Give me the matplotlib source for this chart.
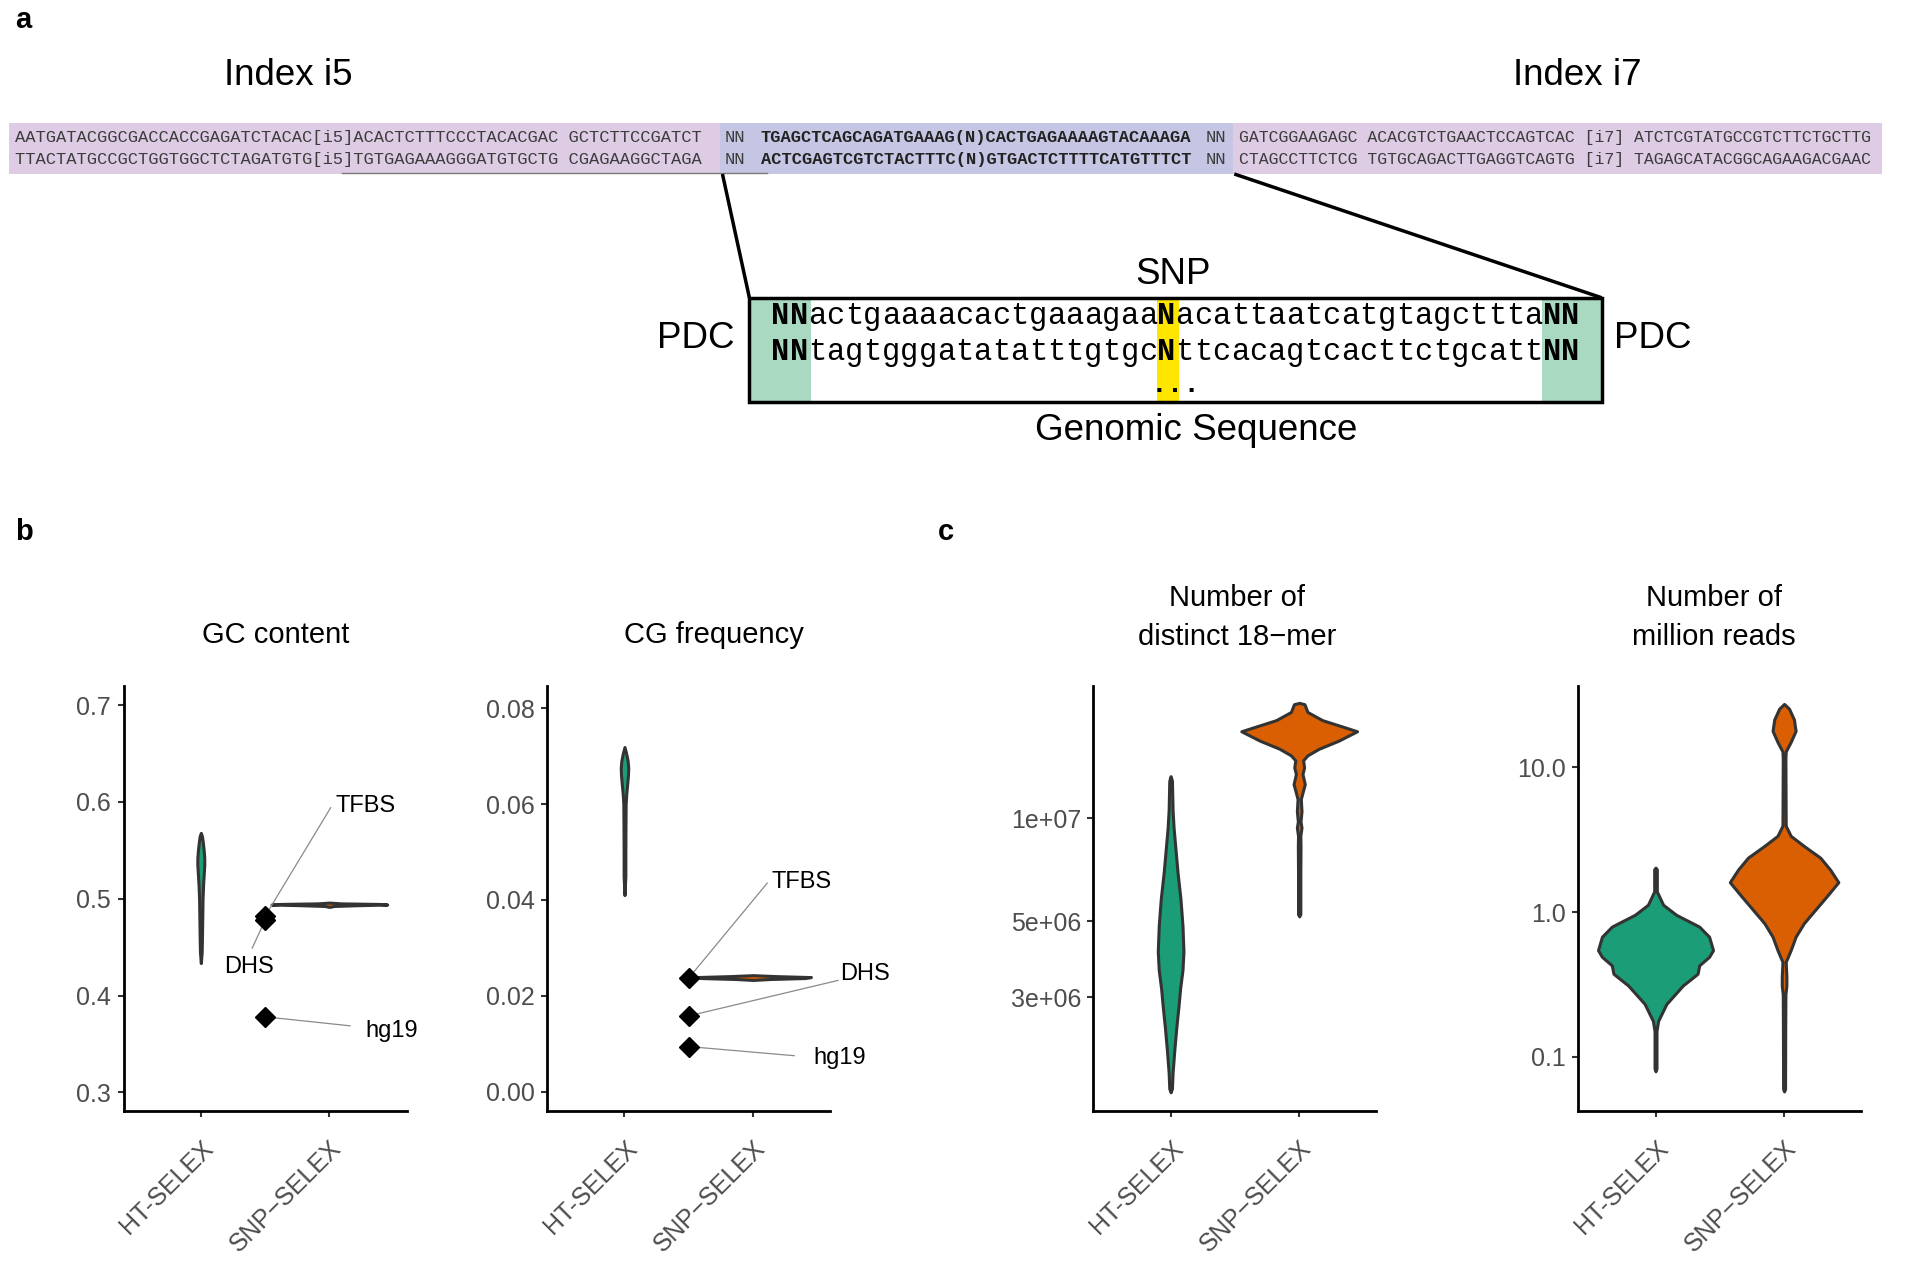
import numpy as np
import matplotlib
matplotlib.use("Agg")
import matplotlib.pyplot as plt
from matplotlib.patches import Rectangle
from matplotlib.ticker import NullLocator

plt.rcParams["font.family"] = ["Liberation Sans", "DejaVu Sans"]

# ─────────────────────────────────────────────────────────────────────────────
# DATA
# ─────────────────────────────────────────────────────────────────────────────

# panel a – library construct (top / bottom strand)
strand_left = [
    "AATGATACGGCGACCACCGAGATCTACAC[i5]ACACTCTTTCCCTACACGAC GCTCTTCCGATCT",
    "TTACTATGCCGCTGGTGGCTCTAGATGTG[i5]TGTGAGAAAGGGATGTGCTG CGAGAAGGCTAGA",
]
insert_seq = [
    "TGAGCTCAGCAGATGAAAG(N)CACTGAGAAAAGTACAAAGA",
    "ACTCGAGTCGTCTACTTTC(N)GTGACTCTTTTCATGTTTCT",
]
strand_right = [
    "GATCGGAAGAGC ACACGTCTGAACTCCAGTCAC [i7] ATCTCGTATGCCGTCTTCTGCTTG",
    "CTAGCCTTCTCG TGTGCAGACTTGAGGTCAGTG [i7] TAGAGCATACGGCAGAAGACGAAC",
]
genomic_rows = [
    "NNactgaaaacactgaaagaaNacattaatcatgtagctttaNN",
    "NNtagtgggatatatttgtgcNttcacagtcacttctgcattNN",
]

categories = ["HT-SELEX", "SNP\u2212SELEX"]

# violin profiles: value, relative density (1 = widest violin of the panel)
gc_ht_y = [0.4335, 0.445, 0.46, 0.48, 0.50, 0.515, 0.525, 0.535, 0.542, 0.55, 0.558, 0.5645, 0.568]
gc_ht_w = [0.0, 0.015, 0.02, 0.025, 0.03, 0.04, 0.05, 0.06, 0.06, 0.05, 0.035, 0.02, 0.0]
gc_snp_y = [0.4915, 0.4925, 0.4933, 0.4940, 0.4946, 0.4952, 0.4960]
gc_snp_w = [0.0, 0.08, 0.5, 1.0, 0.85, 0.2, 0.0]

cg_ht_y = [0.041, 0.045, 0.05, 0.055, 0.06, 0.062, 0.064, 0.066, 0.0675, 0.069, 0.0705, 0.0719]
cg_ht_w = [0.0, 0.015, 0.015, 0.017, 0.02, 0.03, 0.045, 0.06, 0.065, 0.055, 0.03, 0.0]
cg_snp_y = [0.0233, 0.0235, 0.0237, 0.0239, 0.0241, 0.0243]
cg_snp_w = [0.0, 0.3, 0.9, 1.0, 0.4, 0.0]

kmer_ht_y = [1.33e7, 1.29e7, 1.06e7, 9.42e6, 8.10e6, 6.97e6, 5.82e6, 4.86e6, 4.08e6,
             3.60e6, 3.19e6, 2.82e6, 2.43e6, 2.09e6, 1.80e6, 1.62e6, 1.58e6]
kmer_ht_w = [0.0, 0.023, 0.034, 0.051, 0.085, 0.119, 0.170, 0.205, 0.222,
             0.205, 0.165, 0.136, 0.097, 0.063, 0.034, 0.023, 0.0]
kmer_snp_y = [2.18e7, 2.16e7, 2.05e7, 1.94e7, 1.86e7, 1.80e7, 1.69e7, 1.60e7, 1.53e7,
              1.48e7, 1.41e7, 1.35e7, 1.26e7, 1.19e7, 1.14e7, 1.05e7, 9.8e6,
              9.4e6, 8.9e6, 8.3e6, 6.97e6, 5.25e6, 5.17e6]
kmer_snp_w = [0.0, 0.091, 0.143, 0.400, 0.740, 1.0, 0.682, 0.341, 0.142,
              0.068, 0.085, 0.057, 0.097, 0.057, 0.028, 0.040, 0.023,
              0.040, 0.020, 0.023, 0.020, 0.020, 0.0]

reads_ht_y = [2.03, 1.98, 1.39, 1.125, 0.958, 0.794, 0.676, 0.546, 0.491, 0.429,
              0.375, 0.311, 0.232, 0.177, 0.151, 0.083, 0.0794]
reads_ht_w = [0.0, 0.023, 0.023, 0.131, 0.358, 0.756, 0.926, 0.994, 0.926, 0.756,
              0.727, 0.472, 0.188, 0.045, 0.017, 0.017, 0.0]
reads_snp_y = [27.5, 25.5, 21.5, 17.9, 15.0, 12.9, 11.5, 3.96, 3.37, 2.87, 2.38, 1.97,
               1.61, 1.29, 1.04, 0.838, 0.676, 0.546, 0.453, 0.36, 0.311, 0.27,
               0.164, 0.0600, 0.0576]
reads_snp_w = [0.0, 0.085, 0.170, 0.199, 0.114, 0.028, 0.023, 0.028, 0.114, 0.341, 0.625, 0.795,
               0.938, 0.739, 0.540, 0.341, 0.199, 0.114, 0.028, 0.040, 0.040, 0.023,
               0.020, 0.017, 0.0]

# genome-wide reference values (diamonds)
ref_labels = ["TFBS", "DHS", "hg19"]
gc_ref = [0.482, 0.478, 0.378]
cg_ref = [0.0237, 0.0158, 0.0094]

# ─────────────────────────────────────────────────────────────────────────────
# STYLE
# ─────────────────────────────────────────────────────────────────────────────

GREEN, ORANGE = "#1B9E77", "#D95F02"
EDGE = "#333333"
PURPLE, BLUE = "#DDCCE4", "#C5C6E3"
SEQ_GRAY = "#3C3C3C"
MONO = ["Liberation Mono", "DejaVu Sans Mono"]

W, H = 1568, 1030          # layout grid used for placing the schematic

fig = plt.figure(figsize=(19.2, 12.62), dpi=100)
ov = fig.add_axes([0, 0, 1, 1])
ov.set_xlim(0, W)
ov.set_ylim(H, 0)
ov.axis("off")

# ─────────────────────────────────────────────────────────────────────────────
# PANEL a – construct schematic
# ─────────────────────────────────────────────────────────────────────────────

ov.text(12, 16, "a", size=21, weight="bold", ha="left", va="center")
ov.text(235, 62, "Index i5", size=26.5, ha="center", va="center")
ov.text(1288, 62, "Index i7", size=26.5, ha="center", va="center")

ov.add_patch(Rectangle((7, 100), 1530, 42, fc=PURPLE, ec="none"))
ov.add_patch(Rectangle((588, 100), 419, 42, fc=BLUE, ec="none"))
for row, y in enumerate((112, 130)):
    kw = dict(family=MONO, color=SEQ_GRAY, va="center")
    ov.text(12, y, strand_left[row], ha="left", size=12.3, **kw)
    ov.text(592, y, "NN", ha="left", size=12.3, **kw)
    ov.text(797, y, insert_seq[row], ha="center", weight="bold",
            family=MONO, size=12.3, color="#222222", va="center")
    ov.text(1001, y, "NN", ha="right", size=12.3, **kw)
    ov.text(1012, y, strand_right[row], ha="left", size=11.9, **kw)
ov.plot([279, 626], [141, 141], color="#7A7A7A", lw=1)

# zoom lines into the genomic insert
ov.plot([590, 612], [142, 243], color="black", lw=2.5, solid_capstyle="butt")
ov.plot([1008, 1308], [142, 243], color="black", lw=2.5, solid_capstyle="butt")

ov.add_patch(Rectangle((612, 243), 696, 85, fc="white", ec="none"))
ov.add_patch(Rectangle((612, 243), 50, 85, fc="#A9D9C0", ec="none"))
ov.add_patch(Rectangle((1259, 243), 49, 85, fc="#A9D9C0", ec="none"))
ov.add_patch(Rectangle((945, 243), 18, 85, fc="#FFE600", ec="none"))
ov.add_patch(Rectangle((612, 243), 696, 85, fc="none", ec="black", lw=2.5))

for row, y in zip(genomic_rows, (258, 287)):
    for i, ch in enumerate(row):
        ov.text(630 + 15 * i + 7.5, y, ch, family=MONO, size=22,
                weight="bold" if ch == "N" else "normal",
                ha="center", va="center")
ov.text(960, 314, "...", family=MONO, size=20, weight="bold", ha="center", va="center")

ov.text(958, 224, "SNP", size=26.5, ha="center", va="center")
ov.text(568, 276, "PDC", size=26.5, ha="center", va="center")
ov.text(1350, 276, "PDC", size=26.5, ha="center", va="center")
ov.text(977, 351, "Genomic Sequence", size=26.5, ha="center", va="center")

# ─────────────────────────────────────────────────────────────────────────────
# PANELS b / c – violins
# ─────────────────────────────────────────────────────────────────────────────

ov.text(12, 434, "b", size=21, weight="bold", ha="left", va="center")
ov.text(766, 434, "c", size=21, weight="bold", ha="left", va="center")


def panel(x_left, profiles, ylim, yticks, yticklabels, log=False):
    """Draw one ggplot-like violin panel; x_left in layout units."""
    rect = [x_left / W, 1 - 907 / H, 231 / W, (907 - 560) / H]
    ax = fig.add_axes(rect)
    ax.patch.set_visible(False)
    for pos, (ys, ws), color in zip((1, 2), profiles, (GREEN, ORANGE)):
        hw = np.asarray(ws) * 0.45
        ax.fill_betweenx(ys, pos - hw, pos + hw, facecolor=color,
                         edgecolor=EDGE, lw=2.2, zorder=2)
    if log:
        ax.set_yscale("log")
    ax.set_xlim(0.4, 2.6)
    ax.set_ylim(*ylim)
    ax.set_yticks(yticks)
    ax.set_yticklabels(yticklabels)
    ax.yaxis.set_minor_locator(NullLocator())
    ax.set_xticks([1, 2])
    ax.set_xticklabels(categories, rotation=45, ha="right", va="top",
                       rotation_mode="anchor")
    for s in ("top", "right"):
        ax.spines[s].set_visible(False)
    for s in ("left", "bottom"):
        ax.spines[s].set_linewidth(2)
        ax.spines[s].set_color("black")
    ax.tick_params(axis="both", length=4, width=1.5, color=EDGE,
                   labelcolor="#4D4D4D", labelsize=18, pad=5)
    ax.tick_params(axis="x", pad=14)
    return ax


def annotate_refs(ax, values, spots):
    ax.plot([1.5] * len(values), values, "D", color="black", ms=10, zorder=4)
    for lab, val, (tx, ty, lx, ly, ha) in zip(ref_labels, values, spots):
        ax.plot([lx, 1.5], [ly, val], color="#8A8A8A", lw=0.9, zorder=3, clip_on=False)
        ax.text(tx, ty, lab, size=17, ha=ha, va="center", clip_on=False)


ax_gc = panel(101, [(gc_ht_y, gc_ht_w), (gc_snp_y, gc_snp_w)],
              (0.2804, 0.7196), [0.3, 0.4, 0.5, 0.6, 0.7],
              ["0.3", "0.4", "0.5", "0.6", "0.7"])
annotate_refs(ax_gc, gc_ref, [
    (2.05, 0.5957, 2.01, 0.594, "left"),
    (1.375, 0.429, 1.40, 0.449, "center"),
    (2.28, 0.363, 2.16, 0.3687, "left"),
])

ax_cg = panel(447, [(cg_ht_y, cg_ht_w), (cg_snp_y, cg_snp_w)],
              (-0.0041, 0.0846), [0.0, 0.02, 0.04, 0.06, 0.08],
              ["0.00", "0.02", "0.04", "0.06", "0.08"])
annotate_refs(ax_cg, cg_ref, [
    (2.14, 0.0438, 2.11, 0.0435, "left"),
    (2.68, 0.0246, 2.66, 0.0232, "left"),
    (2.47, 0.0070, 2.32, 0.0075, "left"),
])

ax_km = panel(893, [(kmer_ht_y, kmer_ht_w), (kmer_snp_y, kmer_snp_w)],
              (1.39e6, 2.44e7), [3e6, 5e6, 1e7],
              ["3e+06", "5e+06", "1e+07"], log=True)

ax_rd = panel(1289, [(reads_ht_y, reads_ht_w), (reads_snp_y, reads_snp_w)],
              (0.042, 36.5), [0.1, 1.0, 10.0],
              ["0.1", "1.0", "10.0"], log=True)

# panel titles
ov.text(225, 518, "GC content", size=21, ha="center", va="center")
ov.text(583, 518, "CG frequency", size=21, ha="center", va="center")
ov.text(1010, 504, "Number of\ndistinct 18\u2212mer", size=21, ha="center",
        va="center", multialignment="center", linespacing=1.5)
ov.text(1400, 504, "Number of\nmillion reads", size=21, ha="center",
        va="center", multialignment="center", linespacing=1.5)

fig.savefig("out.png", dpi=100)
